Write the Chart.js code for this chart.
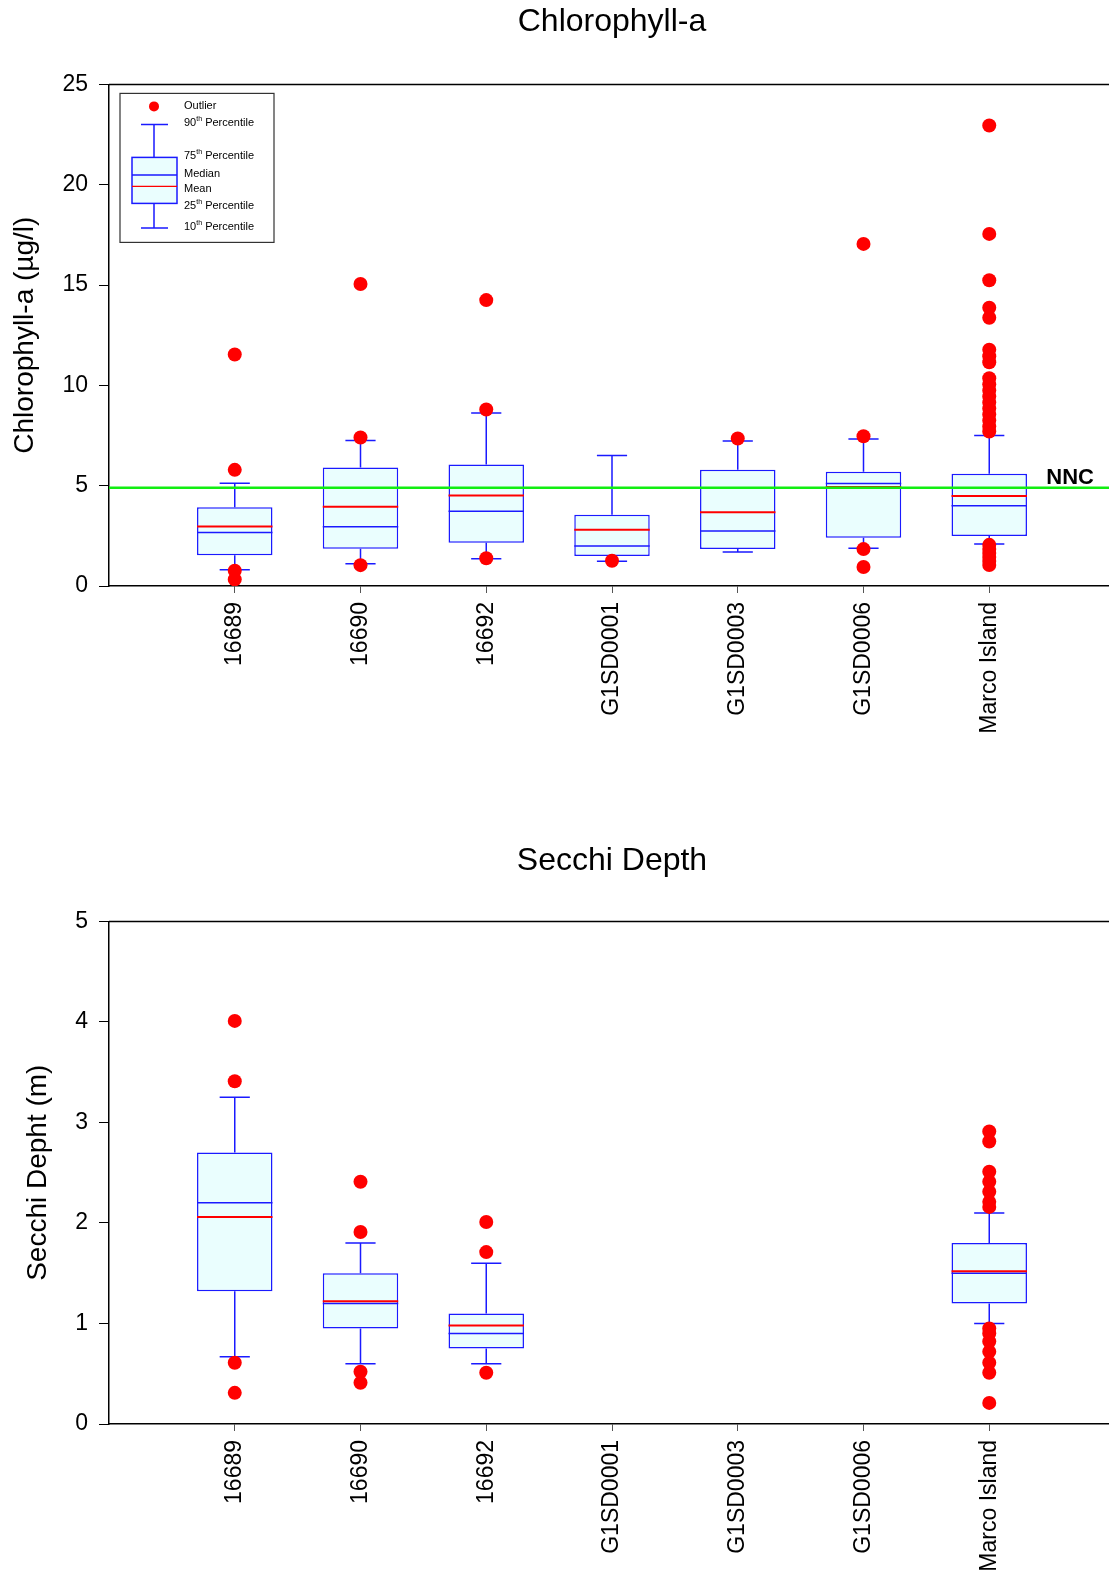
<!DOCTYPE html>
<html>
<head>
<meta charset="utf-8">
<title>Chlorophyll-a and Secchi Depth</title>
<script src="https://cdn.jsdelivr.net/npm/chart.js@4.4.1/dist/chart.umd.min.js"></script>
<style>
  html, body { margin: 0; padding: 0; background: #fff; overflow: hidden; }
  .wrap { position: relative; width: 1122px; }
  #top { height: 800px; }
  #bottom { height: 777px; }
</style>
</head>
<body>
<div class="wrap" id="top"><canvas id="chlChart"></canvas></div>
<div class="wrap" id="bottom"><canvas id="secChart"></canvas></div>
<script>
// stations along the x axis
const categories = ['16689', '16690', '16692', 'G1SD0001', 'G1SD0003', 'G1SD0006', 'Marco Island'];

// Chlorophyll-a (ug/l)
const chlP10 = [0.81, 1.11, 1.36, 1.23, 1.69, 1.88, 2.09];
const chlP25 = [1.53, 1.86, 2.15, 1.50, 1.84, 2.40, 2.49];
const chlMedian = [2.67, 2.95, 3.73, 1.99, 2.74, 5.11, 4.00];
const chlMean = [2.97, 3.95, 4.51, 2.80, 3.67, 4.94, 4.48];
const chlP75 = [3.92, 5.90, 6.05, 3.55, 5.80, 5.69, 5.59];
const chlP90 = [5.12, 7.25, 8.62, 6.50, 7.23, 7.33, 7.50];
const chlOutliers = [
  [11.54, 5.79, 0.76, 0.33],
  [15.05, 7.40, 1.04],
  [14.25, 8.80, 1.38],
  [1.26],
  [7.35],
  [17.05, 7.46, 1.84, 0.95],
  [22.95, 17.55, 15.24, 13.87, 13.37, 11.78, 11.45, 11.15, 10.36, 10.05, 9.75, 9.45, 9.15, 8.85, 8.55, 8.25, 7.95, 7.70, 2.05, 1.85, 1.65, 1.45, 1.25, 1.05]
];
const chlTicks = [0, 5, 10, 15, 20, 25];
const nncValue = 4.9;

// Secchi depth (m) - no data for the G1SD stations
const secP10 = [0.67, 0.60, 0.60, null, null, null, 1.00];
const secP25 = [1.32, 0.95, 0.75, null, null, null, 1.20];
const secMedian = [2.20, 1.20, 0.90, null, null, null, 1.50];
const secMean = [2.06, 1.22, 0.98, null, null, null, 1.52];
const secP75 = [2.70, 1.50, 1.10, null, null, null, 1.80];
const secP90 = [3.25, 1.80, 1.60, null, null, null, 2.10];
const secOutliers = [
  [4.01, 3.41, 0.61, 0.31],
  [2.41, 1.91, 0.52, 0.41],
  [2.01, 1.71, 0.51],
  [],
  [],
  [],
  [2.91, 2.81, 2.51, 2.41, 2.31, 2.21, 2.16, 0.95, 0.90, 0.82, 0.72, 0.61, 0.51, 0.21]
];
const secTicks = [0, 1, 2, 3, 4, 5];

const FONT = '"Liberation Sans", Arial, sans-serif';
const BLUE = '#1a1aff';
const RED = '#ff0000';
const BOX_FILL = '#eafefe';
const HALF_BOX = 0.3;   // half box width, in category units
const HALF_CAP = 0.12;  // half whisker cap width

// whiskers, caps, median and mean lines, drawn right after the boxes
function boxDetailsPlugin(stats) {
  return {
    id: 'boxDetails',
    afterDatasetDraw(chart, args) {
      if (args.index !== 0) return;
      const ctx = chart.ctx;
      const x = chart.scales.x;
      const y = chart.scales.y;
      ctx.save();
      ctx.lineCap = 'butt';
      stats.p25.forEach(function (q25, i) {
        if (q25 === null) return;
        const c = i + 1;
        const xc = x.getPixelForValue(c);
        const xl = x.getPixelForValue(c - HALF_BOX);
        const xr = x.getPixelForValue(c + HALF_BOX);
        const cl = x.getPixelForValue(c - HALF_CAP);
        const cr = x.getPixelForValue(c + HALF_CAP);
        ctx.strokeStyle = BLUE;
        ctx.lineWidth = 1.5;
        ctx.beginPath();
        // upper whisker
        ctx.moveTo(xc, y.getPixelForValue(stats.p75[i]));
        ctx.lineTo(xc, y.getPixelForValue(stats.p90[i]));
        ctx.moveTo(cl, y.getPixelForValue(stats.p90[i]));
        ctx.lineTo(cr, y.getPixelForValue(stats.p90[i]));
        // lower whisker
        ctx.moveTo(xc, y.getPixelForValue(q25));
        ctx.lineTo(xc, y.getPixelForValue(stats.p10[i]));
        ctx.moveTo(cl, y.getPixelForValue(stats.p10[i]));
        ctx.lineTo(cr, y.getPixelForValue(stats.p10[i]));
        // median
        ctx.moveTo(xl, y.getPixelForValue(stats.median[i]));
        ctx.lineTo(xr, y.getPixelForValue(stats.median[i]));
        ctx.stroke();
        // mean
        ctx.strokeStyle = RED;
        ctx.lineWidth = 2;
        ctx.beginPath();
        ctx.moveTo(xl, y.getPixelForValue(stats.mean[i]));
        ctx.lineTo(xr, y.getPixelForValue(stats.mean[i]));
        ctx.stroke();
      });
      ctx.restore();
    }
  };
}

// top frame line, plus optional NNC line and key box
function framePlugin(withExtras) {
  return {
    id: 'frameExtras',
    afterDatasetsDraw(chart) {
      const ctx = chart.ctx;
      const area = chart.chartArea;
      const y = chart.scales.y;
      ctx.save();
      ctx.strokeStyle = '#000';
      ctx.lineWidth = 1.5;
      ctx.beginPath();
      ctx.moveTo(area.left, area.top);
      ctx.lineTo(area.right, area.top);
      ctx.stroke();

      if (withExtras) {
        // NNC threshold line
        const yn = y.getPixelForValue(nncValue);
        ctx.strokeStyle = '#11ee11';
        ctx.lineWidth = 2.5;
        ctx.beginPath();
        ctx.moveTo(area.left, yn);
        ctx.lineTo(area.right, yn);
        ctx.stroke();
        ctx.fillStyle = '#000';
        ctx.font = 'bold 22px ' + FONT;
        ctx.textAlign = 'right';
        ctx.textBaseline = 'alphabetic';
        ctx.fillText('NNC', 1094, yn - 4);

        drawKey(ctx, area.left + 11, area.top + 9);
      }
      ctx.restore();
    }
  };
}

// the little explanation box in the top left corner
function drawKey(ctx, left, top) {
  ctx.save();
  ctx.translate(left, top);
  ctx.strokeStyle = '#333';
  ctx.lineWidth = 1.2;
  ctx.strokeRect(0, 0, 154, 149);

  ctx.fillStyle = RED;
  ctx.beginPath();
  ctx.arc(34, 13, 5, 0, Math.PI * 2);
  ctx.fill();

  ctx.strokeStyle = BLUE;
  ctx.lineWidth = 1.5;
  ctx.beginPath();
  ctx.moveTo(34, 31); ctx.lineTo(34, 64);
  ctx.moveTo(34, 110); ctx.lineTo(34, 134.5);
  ctx.moveTo(21, 31); ctx.lineTo(48, 31);
  ctx.moveTo(21, 134.5); ctx.lineTo(48, 134.5);
  ctx.stroke();
  ctx.fillStyle = BOX_FILL;
  ctx.fillRect(12, 64, 45, 46);
  ctx.strokeRect(12, 64, 45, 46);
  ctx.beginPath();
  ctx.moveTo(12, 81.5); ctx.lineTo(57, 81.5);
  ctx.stroke();
  ctx.strokeStyle = RED;
  ctx.lineWidth = 1.2;
  ctx.beginPath();
  ctx.moveTo(12, 93); ctx.lineTo(57, 93);
  ctx.stroke();

  const rows = [
    ['Outlier', '', '', 13],
    ['90', 'th', ' Percentile', 30],
    ['75', 'th', ' Percentile', 63],
    ['Median', '', '', 80.5],
    ['Mean', '', '', 95.5],
    ['25', 'th', ' Percentile', 112.5],
    ['10', 'th', ' Percentile', 134]
  ];
  ctx.fillStyle = '#000';
  ctx.textAlign = 'left';
  ctx.textBaseline = 'middle';
  rows.forEach(function (r) {
    let tx = 64;
    ctx.font = '11px ' + FONT;
    ctx.fillText(r[0], tx, r[3]);
    tx += ctx.measureText(r[0]).width;
    if (r[1]) {
      ctx.font = '7px ' + FONT;
      ctx.fillText(r[1], tx, r[3] - 4);
      tx += ctx.measureText(r[1]).width;
      ctx.font = '11px ' + FONT;
      ctx.fillText(r[2], tx, r[3]);
    }
  });
  ctx.restore();
}

function buildBoxChart(canvasId, opts) {
  const boxes = [];
  const outliers = [];
  opts.p25.forEach(function (q25, i) {
    if (q25 !== null) boxes.push({ x: i + 1, y: [q25, opts.p75[i]] });
    opts.outliers[i].forEach(function (v) { outliers.push({ x: i + 1, y: v }); });
  });

  return new Chart(document.getElementById(canvasId), {
    type: 'bar',
    data: {
      datasets: [
        {
          type: 'bar',
          data: boxes,
          backgroundColor: BOX_FILL,
          borderColor: BLUE,
          borderWidth: 1.5,
          borderSkipped: false,
          grouped: false,
          categoryPercentage: 1,
          barPercentage: HALF_BOX * 2,
          order: 2
        },
        {
          type: 'scatter',
          data: outliers,
          backgroundColor: RED,
          borderWidth: 0,
          pointRadius: 7,
          pointHoverRadius: 7,
          order: 1
        }
      ]
    },
    options: {
      responsive: true,
      maintainAspectRatio: false,
      animation: false,
      layout: { padding: 0 },
      plugins: {
        legend: { display: false },
        tooltip: { enabled: false },
        title: {
          display: true,
          text: opts.title,
          fullSize: false,
          color: '#000',
          font: { family: FONT, size: 32, weight: 'normal' },
          padding: { top: opts.titleTop, bottom: opts.titleBottom }
        }
      },
      scales: {
        x: {
          type: 'linear',
          min: 0,
          max: 8,
          offset: false,
          afterBuildTicks: function (axis) {
            axis.ticks = categories.map(function (c, i) { return { value: i + 1 }; });
          },
          afterFit: function (scale) { scale.height = opts.xHeight; },
          grid: { drawOnChartArea: false, offset: false, color: '#555', tickLength: 7 },
          border: { color: '#000', width: 1.5 },
          ticks: {
            autoSkip: false,
            minRotation: 90,
            maxRotation: 90,
            padding: 9,
            color: '#000',
            font: { family: FONT, size: 23 },
            callback: function (value) { return categories[value - 1] || ''; }
          }
        },
        y: {
          min: opts.ticks[0],
          max: opts.ticks[opts.ticks.length - 1],
          afterBuildTicks: function (axis) {
            axis.ticks = opts.ticks.map(function (v) { return { value: v }; });
          },
          afterFit: function (scale) { scale.width = 109; },
          grid: { drawOnChartArea: false, color: '#000', tickLength: 10 },
          border: { color: '#000', width: 1.5 },
          ticks: {
            padding: 11,
            color: '#000',
            font: { family: FONT, size: 23 }
          },
          title: {
            display: true,
            text: opts.yTitle,
            color: '#000',
            font: { family: FONT, size: 28 },
            padding: { top: opts.yTitlePad, bottom: 0 }
          }
        }
      }
    },
    plugins: [boxDetailsPlugin(opts), framePlugin(opts.extras)]
  });
}

document.addEventListener('DOMContentLoaded', function () {
  // Chlorophyll-a panel
  buildBoxChart('chlChart', {
    title: 'Chlorophyll-a',
    yTitle: 'Chlorophyll-a (\u00b5g/l)',
    p10: chlP10, p25: chlP25, median: chlMedian, mean: chlMean, p75: chlP75, p90: chlP90,
    outliers: chlOutliers,
    ticks: chlTicks,
    titleTop: 3, titleBottom: 43,
    xHeight: 214,
    yTitlePad: 8,
    extras: true
  });

  // Secchi depth panel
  buildBoxChart('secChart', {
    title: 'Secchi Depth',
    yTitle: 'Secchi Depht (m)',
    p10: secP10, p25: secP25, median: secMedian, mean: secMean, p75: secP75, p90: secP90,
    outliers: secOutliers,
    ticks: secTicks,
    titleTop: 42, titleBottom: 41,
    xHeight: 153,
    yTitlePad: 21,
    extras: false
  });
});
</script>
</body>
</html>
